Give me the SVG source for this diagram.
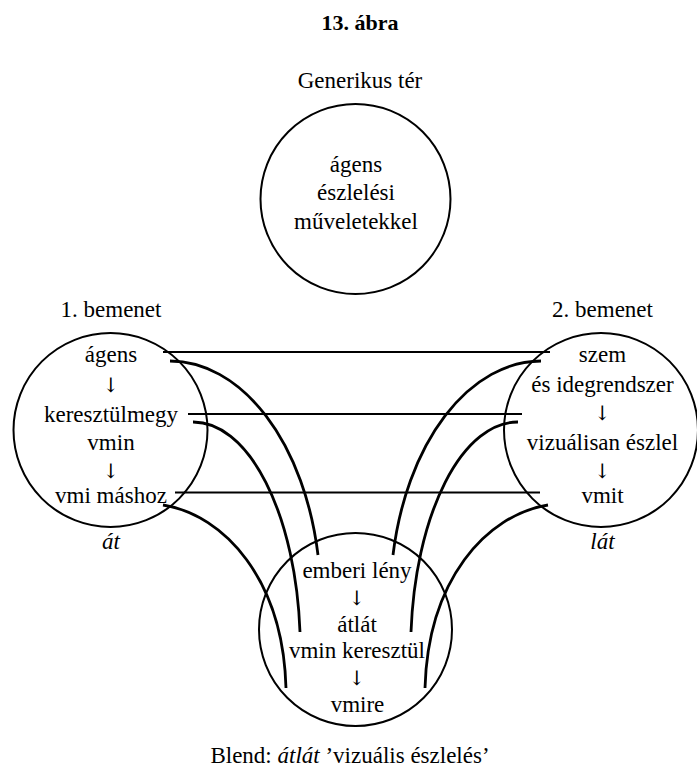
<svg xmlns="http://www.w3.org/2000/svg" width="697" height="771" viewBox="0 0 697 771">
<style>
text{font-family:'Liberation Serif','Times New Roman',serif;font-size:23px;fill:#000;text-anchor:middle}
.title{font-weight:bold;font-size:22px}
.it{font-style:italic}
.ar{font-family:'DejaVu Serif','Liberation Serif',serif;font-size:20px}
.circ{fill:none;stroke:#000;stroke-width:2}
.ln{fill:none;stroke:#000;stroke-width:2.2}
.cv{fill:none;stroke:#000;stroke-width:2.8}
</style>
<rect width="697" height="771" fill="#fff"/>
<text class="title" x="360" y="30">13. ábra</text>
<g id="generic">
<text x="360" y="88">Generikus tér</text>
<circle class="circ" cx="355.5" cy="199" r="95"/>
<text x="356" y="172">ágens</text>
<text x="356" y="200">észlelési</text>
<text x="356" y="229">műveletekkel</text>
</g>
<g id="input1">
<text x="111" y="317">1. bemenet</text>
<circle class="circ" cx="110.5" cy="430" r="97"/>
<text x="111" y="362">ágens</text>
<text class="ar" x="111" y="392">↓</text>
<text x="111" y="422">keresztülmegy</text>
<text x="111" y="450">vmin</text>
<text class="ar" x="111" y="478">↓</text>
<text x="111" y="503">vmi máshoz</text>
<text class="it" x="111" y="549">át</text>
</g>
<g id="input2">
<text x="602.5" y="317">2. bemenet</text>
<circle class="circ" cx="601" cy="430" r="97"/>
<text x="602.5" y="362">szem</text>
<text x="602.5" y="392">és idegrendszer</text>
<text class="ar" x="602.5" y="420">↓</text>
<text x="602.5" y="450">vizuálisan észlel</text>
<text class="ar" x="602.5" y="478">↓</text>
<text x="602.5" y="503">vmit</text>
<text class="it" x="602.5" y="549">lát</text>
</g>
<g id="blend">
<circle class="circ" cx="355.5" cy="629.5" r="96.5"/>
<text x="357" y="578">emberi lény</text>
<text class="ar" x="357" y="605">↓</text>
<text x="357" y="632">átlát</text>
<text x="357" y="658">vmin keresztül</text>
<text class="ar" x="357" y="685">↓</text>
<text x="357.5" y="712">vmire</text>
</g>
<g id="connectors">
<line class="ln" x1="163" y1="352" x2="550" y2="352"/>
<line class="ln" x1="188" y1="414" x2="522" y2="414"/>
<line class="ln" x1="175" y1="492.5" x2="540" y2="492.5"/>
<path class="cv" d="M170,361 A151,239 0 0 1 318,555"/>
<path class="cv" d="M193,422 A107,228 0 0 1 300,632"/>
<path class="cv" d="M163,505 C225,515 283,580 286,688"/>
<path class="cv" d="M541,361 A151,239 0 0 0 393,555"/>
<path class="cv" d="M518,422 A107,228 0 0 0 411,632"/>
<path class="cv" d="M548,505 C486,515 428,580 425,688"/>
</g>
<text x="350" y="763">Blend: <tspan class="it">átlát</tspan> ’vizuális észlelés’</text>
</svg>
